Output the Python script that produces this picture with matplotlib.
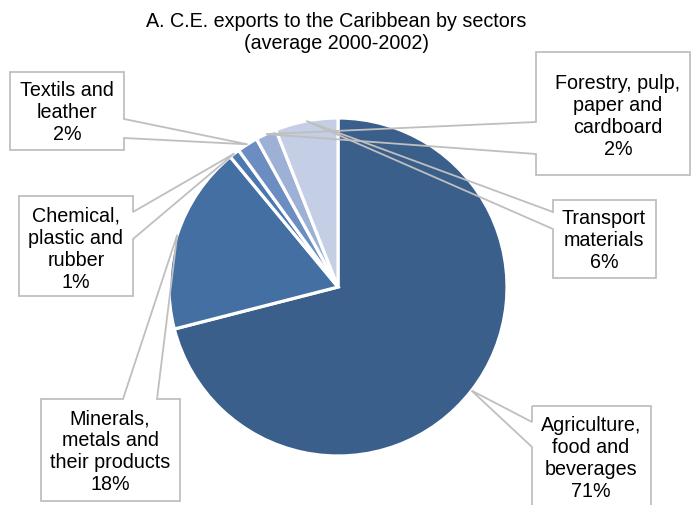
import numpy as np
import matplotlib
matplotlib.use("Agg")
import matplotlib.pyplot as plt
from matplotlib.patches import Polygon

plt.rcParams['font.family'] = ['Liberation Sans', 'DejaVu Sans']

sectors = ["Agriculture,\nfood and\nbeverages",
           "Minerals,\nmetals and\ntheir products",
           "Chemical,\nplastic and\nrubber",
           "Textils and\nleather",
           "Forestry, pulp,\npaper and\ncardboard",
           "Transport\nmaterials"]
shares = [71, 18, 1, 2, 2, 6]
colors = ["#3A5F8B", "#436FA3", "#4A78AF", "#6C8DC2", "#9DB0D6", "#C4CEE4"]

W, H = 693, 506
fig = plt.figure(figsize=(W / 100, H / 100), dpi=100)
ax = fig.add_axes([0, 0, 1, 1])

cx, cy, r = 338, 288, 169
wedges, _ = ax.pie(shares, colors=colors, startangle=90, counterclock=False,
                   center=(cx, H - cy), radius=r,
                   wedgeprops=dict(edgecolor="white", linewidth=2.3))
ax.set_xlim(0, W)
ax.set_ylim(0, H)
ax.set_aspect('equal')
ax.axis('off')

# callout boxes in pixel units: (x0, y0, x1, y1), tail side, tail base (a, b), text centre
boxes = [
    ((532, 407, 651, 520), 'left', (423, 448), (591, 459)),
    ((41, 400, 180, 502), 'top', (123, 157), (110, 452)),
    ((19, 197, 133, 297), 'right', (213, 240), (76, 249)),
    ((10, 73, 124, 151), 'right', (120, 139), (67, 112)),
    ((536, 53, 690, 176), 'left', (123, 155), (618, 116)),
    ((553, 201, 656, 279), 'left', (213, 230), (604, 240)),
]

def flip(p):
    return (p[0], H - p[1])

for w, name, share, (box, side, (a, b), (tx, ty)) in zip(wedges, sectors, shares, boxes):
    mid = np.deg2rad((w.theta1 + w.theta2) / 2)
    tip = (cx + r * np.cos(mid), cy - r * np.sin(mid))
    x0, y0, x1, y1 = box
    if side == 'right':
        pts = [(x0, y0), (x1, y0), (x1, a), tip, (x1, b), (x1, y1), (x0, y1)]
    elif side == 'left':
        pts = [(x0, y0), (x1, y0), (x1, y1), (x0, y1), (x0, b), tip, (x0, a)]
    else:
        pts = [(x0, y0), (a, y0), tip, (b, y0), (x1, y0), (x1, y1), (x0, y1)]
    ax.add_patch(Polygon([flip(p) for p in pts], closed=True, fill=False,
                         edgecolor="#BFBFBF", linewidth=1.3, zorder=3))
    ax.text(tx, H - ty, f"{name}\n{share}%", ha='center', va='center',
            fontsize=14.2, linespacing=1.2, color="#000000", zorder=4)

ax.text(336, H - 32, "A. C.E. exports to the Caribbean by sectors\n(average 2000-2002)",
        ha='center', va='center', fontsize=14.2, linespacing=1.2)

fig.savefig("out.png", dpi=100)
